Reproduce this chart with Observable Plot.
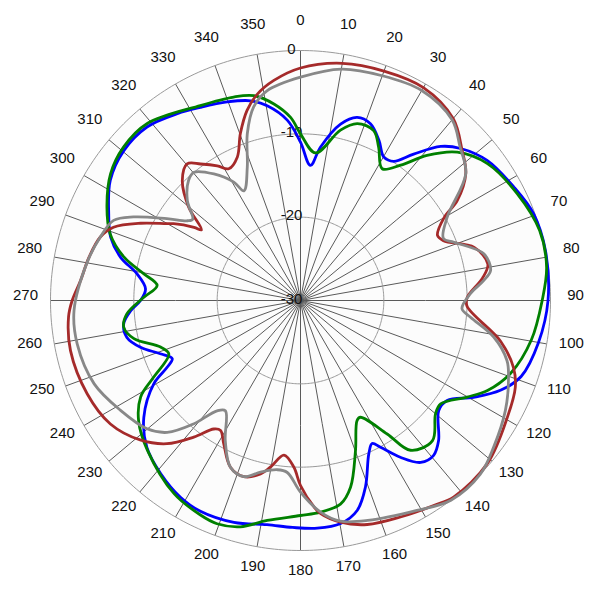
<!DOCTYPE html>
<html><head><meta charset="utf-8">
<script src="https://cdn.jsdelivr.net/npm/d3@7"></script>
<script src="https://cdn.jsdelivr.net/npm/@observablehq/plot@0.6"></script>
<style>body{margin:0;background:#fff}</style>
</head><body><div id="chart"></div>
<script>
// Angle tick labels (degrees, clockwise from top)
const angleTicks = [0,10,20,30,40,50,60,70,80,90,100,110,120,130,140,150,160,170,180,190,200,210,220,230,240,250,260,270,280,290,300,310,320,330,340,350];
// Radial tick values (dB)
const ringTicks = [-30,-20,-10,0];

// Series: [angle, dB]
const blueSeries = [[0,-11.0],[4.2,-13.75],[7.4,-11.45],[12.8,-8.3],[17.2,-7.0],[21.6,-7.2],[26.1,-8.6],[30.2,-10.1],[33.8,-9.9],[37.7,-7.8],[42.3,-5.0],[46.5,-3.5],[53.1,-2.0],[62,-1.0],[69.6,-0.15],[78.5,0],[90,-0.3],[100,-1.0],[109,-2.0],[114.2,-3.7],[119.2,-6.2],[124.3,-8.7],[128.5,-8.8],[135.4,-6.4],[139.3,-5.5],[143.4,-5.8],[147.5,-7.7],[151.4,-9.95],[153.4,-10.8],[156,-9.85],[160.8,-6.3],[164.9,-3.9],[169.8,-2.8],[175.8,-2.6],[182,-2.75],[188.5,-2.8],[196.7,-2.2],[205.4,-2.0],[211.4,-2.35],[218.9,-3.3],[226.3,-4.5],[233.3,-6.55],[240.4,-9.75],[243.4,-12.1],[245.6,-13.1],[249.2,-12.0],[253.7,-10.0],[258,-8.7],[262.5,-8.6],[266.6,-9.6],[270,-10.8],[274.3,-11.35],[279.3,-10.1],[283.5,-7.8],[288.4,-6.0],[294.3,-4.75],[302.3,-3.0],[310.3,-2.2],[318.5,-2.2],[326.6,-3.15],[332.6,-3.9],[339.7,-4.6],[346,-5.3],[350.3,-6.3],[355.8,-8.3]];

const greenSeries = [[0,-10.0],[5.8,-12.2],[13.2,-9.0],[17.8,-7.7],[23.3,-7.8],[27,-9.35],[31.8,-11.4],[36.5,-9.8],[41.1,-6.9],[46.6,-4.1],[53.8,-2.2],[63.8,-1.0],[73.7,-0.1],[82.3,-0.2],[90,-1.0],[99.7,-1.9],[109,-3.3],[115.7,-5.1],[120.1,-6.9],[126.4,-9.1],[130,-8.85],[136.7,-6.9],[143.7,-7.7],[147,-10.9],[152.8,-14.25],[154.7,-14.1],[159.9,-10.8],[165,-6.8],[168.9,-5.1],[174.6,-4.5],[180,-4.2],[188.6,-3.3],[194.9,-1.9],[200.5,-1.4],[205,-1.6],[213.2,-2.3],[225.6,-4.3],[233.4,-5.8],[238.9,-7.6],[242.4,-10.1],[247.9,-12.95],[251.6,-12.3],[257.1,-9.5],[261.4,-8.55],[265.6,-9.1],[271.2,-11.2],[276,-12.7],[279.7,-10.9],[283.8,-8.2],[289.3,-5.8],[295.8,-4.2],[303.7,-2.6],[310.9,-1.9],[319,-1.9],[332.8,-3.7],[341.8,-4.3],[347.2,-4.8],[352.3,-6.2],[356.9,-8.0]];

const brownSeries = [[0,-2.1],[10,-1.1],[20,-0.7],[30,-0.5],[40,-1.5],[47,-3.5],[52.5,-5.0],[57.5,-7.7],[60,-10.1],[64.6,-11.8],[67.3,-11.4],[73,-8.2],[79,-7.1],[83,-8.0],[89,-10.0],[92,-10.0],[101.5,-5.5],[107.5,-3.2],[112,-2.2],[119.4,-1.5],[131,-0.25],[142,-0.1],[147,-0.66],[155,-1.37],[163.4,-1.95],[169.8,-2.97],[174.6,-4.3],[176.3,-5.2],[180,-7.8],[182.3,-10.0],[186.1,-11.35],[190,-9.8],[193,-8.65],[197.8,-7.8],[202.8,-8.3],[208.2,-10.5],[211.6,-11.7],[214,-11.4],[218,-9.2],[223,-6.5],[229,-4.5],[237,-2.8],[246.4,-2.06],[257.7,-1.75],[266,-2.1],[270,-2.6],[275.2,-3.5],[281.6,-4.1],[287.6,-4.8],[291.4,-5.9],[295.8,-8.7],[299.9,-11.5],[301.2,-12.2],[304.5,-14.5],[305.5,-15.4],[309.9,-12.5],[315.4,-9.8],[320.3,-8.7],[323.8,-9.7],[328.3,-11.0],[331.4,-12.0],[336.2,-11.2],[340.2,-8.7],[344.3,-6.3],[348.2,-4.7],[353.1,-3.4]];

const graySeries = [[0,-3.2],[10,-1.8],[20,-1.3],[30,-0.9],[40,-1.7],[46,-3.4],[52.5,-5.0],[60.4,-9.75],[66.5,-11.3],[69.2,-10.3],[75.7,-7.3],[81,-6.9],[83.8,-7.9],[87.7,-9.6],[92.9,-10.6],[95.6,-9.5],[100.7,-6.4],[106.2,-4.2],[110.2,-3.4],[118.2,-2.1],[127.2,-0.9],[134,0],[143,0],[151,-1.2],[163,-2.4],[169.8,-3.1],[174.6,-4.5],[180,-7.0],[184.4,-9.3],[187.8,-9.5],[193.1,-8.85],[197.8,-7.8],[202.8,-8.3],[208.2,-10.9],[214.3,-14.0],[217.1,-13.4],[220.9,-10.4],[225.3,-7.5],[230.1,-6.0],[238.6,-4.7],[248,-3.3],[259,-2.7],[267.5,-2.8],[280.2,-4.0],[287.6,-4.8],[293.2,-5.6],[296.6,-7.6],[301.5,-11.2],[305.2,-13.4],[307,-13.8],[311.4,-11.9],[317,-10.3],[320.3,-10.0],[325.6,-11.6],[330.6,-13.7],[332.7,-15.2],[338.2,-12.8],[342.3,-9.0],[346.4,-6.1],[351,-4.5]];

// polar mapping on an azimuthal-equidistant projection centered on the pole
const lon = a => 180 - a;          // 0° at top, clockwise
const lat = v => 60 - v;           // -30 dB at the center, 0 dB on the outer ring
const rows = s => s.map(([a, v]) => ({a, v}));

const circle = r => d3.geoCircle().center([0, 90]).radius(r).precision(1)();

const lineOpts = color => ({
  x: d => lon(d.a), y: d => lat(d.v),
  stroke: color, strokeWidth: 2.8, curve: "catmull-rom-closed", strokeLinejoin: "round"
});

const chart = Plot.plot({
  width: 600, height: 600,
  margin: 0,
  projection: {type: "azimuthal-equidistant", rotate: [0, -90], domain: circle(30), inset: 50},
  style: {fontFamily: "'Liberation Sans', Arial, sans-serif", fontSize: "15px", background: "#fff", color: "#111"},
  marks: [
    Plot.geo([0], {geometry: () => circle(30), fill: "#fcfcfc", stroke: "none"}),
    Plot.link(angleTicks, {x1: a => lon(a), y1: lat(-30), x2: a => lon(a), y2: lat(0), stroke: "#5a5a5a", strokeWidth: 1}),
    Plot.geo(ringTicks.filter(v => v > -30), {geometry: v => circle(v + 30), stroke: "#9a9a9a", strokeWidth: 1, fill: "none"}),
    Plot.text(ringTicks, {x: lon(0), y: v => lat(v), text: v => String(v), dx: -9, dy: -1.5, fill: "#111", fontSize: 15}),
    Plot.text(angleTicks, {x: a => lon(a), y: lat(3), text: a => String(a), dy: -5, fill: "#111", fontSize: 15}),
    Plot.line(rows(blueSeries), lineOpts("#0000ff")),
    Plot.line(rows(greenSeries), lineOpts("#008000")),
    Plot.line(rows(brownSeries), lineOpts("#a52a2a")),
    Plot.line(rows(graySeries), lineOpts("#888888"))
  ]
});
document.getElementById("chart").appendChild(chart);
</script>
</body></html>
